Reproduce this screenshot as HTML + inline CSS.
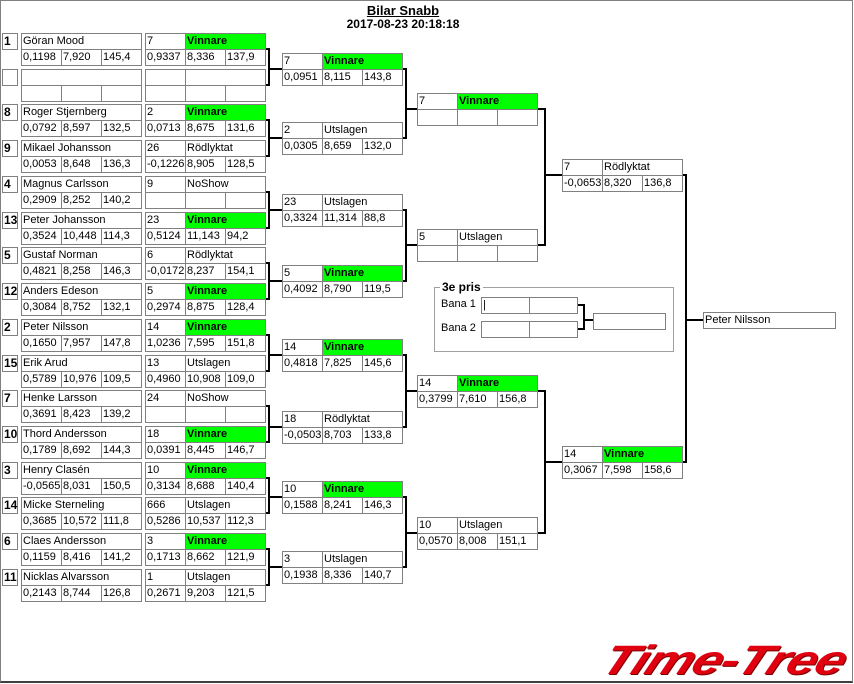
<!DOCTYPE html>
<html><head><meta charset="utf-8"><style>
*{margin:0;padding:0;box-sizing:border-box}
body{width:854px;height:684px;background:#fff;position:relative;overflow:hidden;font:11px "Liberation Sans",sans-serif;color:#000}
#frame{position:absolute;left:0;top:0;width:853px;height:683px;border-left:1px solid #808080;border-top:1px solid #808080;border-right:1px solid #808080;border-bottom:2px solid #404040}
.b{position:absolute;width:121px;border-top:1px solid #808080;border-left:1px solid #808080}
.r{display:flex;height:16px}
.r i{font-style:normal;display:block;width:40px;height:16px;line-height:15px;padding-left:1px;border-right:1px solid #808080;border-bottom:1px solid #808080;white-space:nowrap;overflow:hidden}
.r i.w{width:80px}
.r i.n{width:120px}
.r i.v{background:#00ff00;font-weight:bold}
.sd{position:absolute;left:2px;width:16px;height:17px;border:1px solid #808080;font-weight:bold;font-size:12px;line-height:15px;padding-left:1px}
svg{position:absolute;left:0;top:0}
.t{position:absolute;left:0;width:806px;text-align:center;font-weight:bold;font-size:12px}
.gb{position:absolute;left:434px;top:287px;width:240px;height:65px;border:1px solid #a0a0a0}
.lbl{position:absolute;font-size:11px}
.logo{position:absolute;left:614px;top:637px;font:italic bold 41px "Liberation Sans",sans-serif;color:#e00010;transform:scaleX(1.3) skewX(-18deg);transform-origin:left top;letter-spacing:-1px;text-shadow:1px 1px 0 #700}
</style></head><body>
<div id="frame"></div>
<div class="t" style="top:3px;text-decoration:underline;font-size:13px">Bilar Snabb</div>
<div class="t" style="top:17px">2017-08-23 20:18:18</div>

<div class="sd" style="top:33px">1</div>
<div class="sd" style="top:69px"></div>
<div class="sd" style="top:104px">8</div>
<div class="sd" style="top:140px">9</div>
<div class="sd" style="top:176px">4</div>
<div class="sd" style="top:212px">13</div>
<div class="sd" style="top:247px">5</div>
<div class="sd" style="top:283px">12</div>
<div class="sd" style="top:319px">2</div>
<div class="sd" style="top:355px">15</div>
<div class="sd" style="top:390px">7</div>
<div class="sd" style="top:426px">10</div>
<div class="sd" style="top:462px">3</div>
<div class="sd" style="top:497px">14</div>
<div class="sd" style="top:533px">6</div>
<div class="sd" style="top:569px">11</div>

<div class="b" style="left:21px;top:33px"><div class="r"><i class="n">Göran Mood</i></div><div class="r"><i>0,1198</i><i>7,920</i><i>145,4</i></div></div>
<div class="b" style="left:21px;top:69px"><div class="r"><i class="n"></i></div><div class="r"><i></i><i></i><i></i></div></div>
<div class="b" style="left:21px;top:104px"><div class="r"><i class="n">Roger Stjernberg</i></div><div class="r"><i>0,0792</i><i>8,597</i><i>132,5</i></div></div>
<div class="b" style="left:21px;top:140px"><div class="r"><i class="n">Mikael Johansson</i></div><div class="r"><i>0,0053</i><i>8,648</i><i>136,3</i></div></div>
<div class="b" style="left:21px;top:176px"><div class="r"><i class="n">Magnus Carlsson</i></div><div class="r"><i>0,2909</i><i>8,252</i><i>140,2</i></div></div>
<div class="b" style="left:21px;top:212px"><div class="r"><i class="n">Peter Johansson</i></div><div class="r"><i>0,3524</i><i>10,448</i><i>114,3</i></div></div>
<div class="b" style="left:21px;top:247px"><div class="r"><i class="n">Gustaf Norman</i></div><div class="r"><i>0,4821</i><i>8,258</i><i>146,3</i></div></div>
<div class="b" style="left:21px;top:283px"><div class="r"><i class="n">Anders Edeson</i></div><div class="r"><i>0,3084</i><i>8,752</i><i>132,1</i></div></div>
<div class="b" style="left:21px;top:319px"><div class="r"><i class="n">Peter Nilsson</i></div><div class="r"><i>0,1650</i><i>7,957</i><i>147,8</i></div></div>
<div class="b" style="left:21px;top:355px"><div class="r"><i class="n">Erik Arud</i></div><div class="r"><i>0,5789</i><i>10,976</i><i>109,5</i></div></div>
<div class="b" style="left:21px;top:390px"><div class="r"><i class="n">Henke Larsson</i></div><div class="r"><i>0,3691</i><i>8,423</i><i>139,2</i></div></div>
<div class="b" style="left:21px;top:426px"><div class="r"><i class="n">Thord Andersson</i></div><div class="r"><i>0,1789</i><i>8,692</i><i>144,3</i></div></div>
<div class="b" style="left:21px;top:462px"><div class="r"><i class="n">Henry Clasén</i></div><div class="r"><i>-0,0565</i><i>8,031</i><i>150,5</i></div></div>
<div class="b" style="left:21px;top:497px"><div class="r"><i class="n">Micke Sterneling</i></div><div class="r"><i>0,3685</i><i>10,572</i><i>111,8</i></div></div>
<div class="b" style="left:21px;top:533px"><div class="r"><i class="n">Claes Andersson</i></div><div class="r"><i>0,1159</i><i>8,416</i><i>141,2</i></div></div>
<div class="b" style="left:21px;top:569px"><div class="r"><i class="n">Nicklas Alvarsson</i></div><div class="r"><i>0,2143</i><i>8,744</i><i>126,8</i></div></div>

<div class="b" style="left:145px;top:33px"><div class="r"><i>7</i><i class="w v">Vinnare</i></div><div class="r"><i>0,9337</i><i>8,336</i><i>137,9</i></div></div>
<div class="b" style="left:145px;top:69px"><div class="r"><i></i><i class="w"></i></div><div class="r"><i></i><i></i><i></i></div></div>
<div class="b" style="left:145px;top:104px"><div class="r"><i>2</i><i class="w v">Vinnare</i></div><div class="r"><i>0,0713</i><i>8,675</i><i>131,6</i></div></div>
<div class="b" style="left:145px;top:140px"><div class="r"><i>26</i><i class="w">Rödlyktat</i></div><div class="r"><i>-0,1226</i><i>8,905</i><i>128,5</i></div></div>
<div class="b" style="left:145px;top:176px"><div class="r"><i>9</i><i class="w">NoShow</i></div><div class="r"><i></i><i></i><i></i></div></div>
<div class="b" style="left:145px;top:212px"><div class="r"><i>23</i><i class="w v">Vinnare</i></div><div class="r"><i>0,5124</i><i>11,143</i><i>94,2</i></div></div>
<div class="b" style="left:145px;top:247px"><div class="r"><i>6</i><i class="w">Rödlyktat</i></div><div class="r"><i>-0,0172</i><i>8,237</i><i>154,1</i></div></div>
<div class="b" style="left:145px;top:283px"><div class="r"><i>5</i><i class="w v">Vinnare</i></div><div class="r"><i>0,2974</i><i>8,875</i><i>128,4</i></div></div>
<div class="b" style="left:145px;top:319px"><div class="r"><i>14</i><i class="w v">Vinnare</i></div><div class="r"><i>1,0236</i><i>7,595</i><i>151,8</i></div></div>
<div class="b" style="left:145px;top:355px"><div class="r"><i>13</i><i class="w">Utslagen</i></div><div class="r"><i>0,4960</i><i>10,908</i><i>109,0</i></div></div>
<div class="b" style="left:145px;top:390px"><div class="r"><i>24</i><i class="w">NoShow</i></div><div class="r"><i></i><i></i><i></i></div></div>
<div class="b" style="left:145px;top:426px"><div class="r"><i>18</i><i class="w v">Vinnare</i></div><div class="r"><i>0,0391</i><i>8,445</i><i>146,7</i></div></div>
<div class="b" style="left:145px;top:462px"><div class="r"><i>10</i><i class="w v">Vinnare</i></div><div class="r"><i>0,3134</i><i>8,688</i><i>140,4</i></div></div>
<div class="b" style="left:145px;top:497px"><div class="r"><i>666</i><i class="w">Utslagen</i></div><div class="r"><i>0,5286</i><i>10,537</i><i>112,3</i></div></div>
<div class="b" style="left:145px;top:533px"><div class="r"><i>3</i><i class="w v">Vinnare</i></div><div class="r"><i>0,1713</i><i>8,662</i><i>121,9</i></div></div>
<div class="b" style="left:145px;top:569px"><div class="r"><i>1</i><i class="w">Utslagen</i></div><div class="r"><i>0,2671</i><i>9,203</i><i>121,5</i></div></div>

<div class="b" style="left:282px;top:53px"><div class="r"><i>7</i><i class="w v">Vinnare</i></div><div class="r"><i>0,0951</i><i>8,115</i><i>143,8</i></div></div>
<div class="b" style="left:282px;top:122px"><div class="r"><i>2</i><i class="w">Utslagen</i></div><div class="r"><i>0,0305</i><i>8,659</i><i>132,0</i></div></div>
<div class="b" style="left:282px;top:194px"><div class="r"><i>23</i><i class="w">Utslagen</i></div><div class="r"><i>0,3324</i><i>11,314</i><i>88,8</i></div></div>
<div class="b" style="left:282px;top:265px"><div class="r"><i>5</i><i class="w v">Vinnare</i></div><div class="r"><i>0,4092</i><i>8,790</i><i>119,5</i></div></div>
<div class="b" style="left:282px;top:339px"><div class="r"><i>14</i><i class="w v">Vinnare</i></div><div class="r"><i>0,4818</i><i>7,825</i><i>145,6</i></div></div>
<div class="b" style="left:282px;top:411px"><div class="r"><i>18</i><i class="w">Rödlyktat</i></div><div class="r"><i>-0,0503</i><i>8,703</i><i>133,8</i></div></div>
<div class="b" style="left:282px;top:481px"><div class="r"><i>10</i><i class="w v">Vinnare</i></div><div class="r"><i>0,1588</i><i>8,241</i><i>146,3</i></div></div>
<div class="b" style="left:282px;top:551px"><div class="r"><i>3</i><i class="w">Utslagen</i></div><div class="r"><i>0,1938</i><i>8,336</i><i>140,7</i></div></div>

<div class="b" style="left:417px;top:93px"><div class="r"><i>7</i><i class="w v">Vinnare</i></div><div class="r"><i></i><i></i><i></i></div></div>
<div class="b" style="left:417px;top:229px"><div class="r"><i>5</i><i class="w">Utslagen</i></div><div class="r"><i></i><i></i><i></i></div></div>
<div class="b" style="left:417px;top:375px"><div class="r"><i>14</i><i class="w v">Vinnare</i></div><div class="r"><i>0,3799</i><i>7,610</i><i>156,8</i></div></div>
<div class="b" style="left:417px;top:517px"><div class="r"><i>10</i><i class="w">Utslagen</i></div><div class="r"><i>0,0570</i><i>8,008</i><i>151,1</i></div></div>

<div class="b" style="left:562px;top:159px"><div class="r"><i>7</i><i class="w">Rödlyktat</i></div><div class="r"><i>-0,0653</i><i>8,320</i><i>136,8</i></div></div>
<div class="b" style="left:562px;top:446px"><div class="r"><i>14</i><i class="w v">Vinnare</i></div><div class="r"><i>0,3067</i><i>7,598</i><i>158,6</i></div></div>

<div class="b" style="left:703px;top:312px;width:133px"><div class="r"><i class="n" style="width:132px">Peter Nilsson</i></div></div>

<div class="gb"></div>
<div class="lbl" style="left:440px;top:280px;background:#fff;padding:0 2px;font-weight:bold;font-size:12px">3e pris</div>
<div class="lbl" style="left:441px;top:298px">Bana 1</div>
<div class="lbl" style="left:441px;top:322px">Bana 2</div>
<div class="b" style="left:481px;top:297px;width:97px"><div class="r"><i style="width:48px">|</i><i style="width:48px"></i></div></div>
<div class="b" style="left:481px;top:321px;width:97px"><div class="r"><i style="width:48px"></i><i style="width:48px"></i></div></div>
<div class="b" style="left:593px;top:313px;width:73px"><div class="r"><i style="width:72px"></i></div></div>

<svg width="854" height="684" fill="none" stroke="#000" stroke-width="2">
<path d="M266 49H269V85H266M269 69H282"/>
<path d="M266 120H269V156H266M269 138H282"/>
<path d="M266 192H269V228H266M269 210H282"/>
<path d="M266 263H269V299H266M269 281H282"/>
<path d="M266 335H269V371H266M269 355H282"/>
<path d="M266 406H269V442H266M269 427H282"/>
<path d="M266 478H269V513H266M269 497H282"/>
<path d="M266 549H269V585H266M269 567H282"/>
<path d="M403 69H406V138H403M406 109H417"/>
<path d="M403 210H406V281H403M406 245H417"/>
<path d="M403 355H406V427H403M406 391H417"/>
<path d="M403 497H406V567H403M406 533H417"/>
<path d="M538 109H545V245H538M545 175H562"/>
<path d="M538 391H545V533H538M545 462H562"/>
<path d="M683 175H686V462H683M686 320H703"/>
<path d="M578 305H584V329H578M584 320H593"/>
</svg>

<div class="logo">Time-Tree</div>
</body></html>
